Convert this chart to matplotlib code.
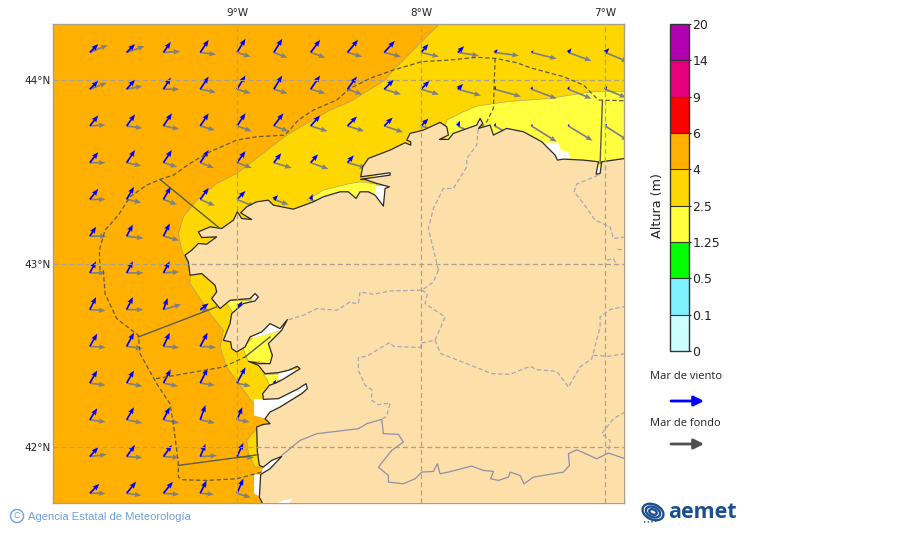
#!/usr/bin/env python3
"""Wave height map for the Galician coast (AEMET style)."""

import matplotlib

matplotlib.use("Agg")
import matplotlib.pyplot as plt
import numpy as np
from matplotlib.cm import ScalarMappable
from matplotlib.colors import BoundaryNorm, ListedColormap
from matplotlib.patches import Ellipse, Polygon

# colour scale
LEVELS = ["0", "0.1", "0.5", "1.25", "2.5", "4", "6", "9", "14", "20"]
COLORS = ["#ccffff", "#80f2ff", "#00ff00", "#ffff40", "#ffd700",
          "#ffb000", "#ff0000", "#e6007e", "#b000b0"]
LAND = "#fddfaa"

# arrow grid, degrees
LONS = [-9.8, -9.6, -9.4, -9.2, -9.0, -8.8, -8.6, -8.4, -8.2, -8.0, -7.8, -7.6, -7.4, -7.2, -7.0]
LATS = [44.15, 43.95, 43.75, 43.55, 43.35, 43.15, 42.95, 42.75, 42.55, 42.35, 42.15, 41.95, 41.75]

# one list per latitude, from the west; a row ends where the land starts
WIND_U = [
    [8, 8, 7, 8, 8, 8, 9, 10, 10, 7, 6, 3, 2, 3, 4],
    [8, 8, 7, 8, 8, 8, 9, 9, 9, 8, 5, 1, 1, 1, 2],
    [8, 8, 8, 8, 8, 9, 9, 9, 8, 7, 2, 1, 1, 1, 2],
    [8, 8, 8, 8, 8, 7, 7, 6],
    [8, 7, 7, 8, 8, 4, 2],
    [6, 6, 6],
    [6, 6, 6],
    [6, 6, 4, 8, 5],
    [7, 7, 6, 7],
    [7, 7, 7, 7, 8, 2],
    [7, 7, 6, 5, 5],
    [8, 8, 8, 5, 6],
    [9, 9, 9, 6, 6],
]
WIND_V = [
    [8, 8, 10, 12, 13, 13, 12, 12, 11, 8, 6, 3, 2, 4, 4],
    [8, 9, 11, 12, 13, 13, 13, 12, 9, 8, 5, 3, 3, 3, 3],
    [10, 11, 12, 12, 12, 12, 10, 9, 8, 7, 5, 3, 2, 2, 2],
    [10, 12, 12, 12, 11, 9, 8, 7],
    [10, 12, 12, 11, 8, 4, 5],
    [9, 11, 12],
    [11, 11, 11],
    [12, 12, 11, 6, 8],
    [12, 13, 13, 13],
    [12, 12, 13, 14, 15, 3],
    [11, 12, 12, 14, 12],
    [9, 11, 11, 12, 13],
    [9, 11, 11, 12, 14],
]
SWELL_U = [
    [17, 17, 16, 15, 13, 13, 14, 14, 16, 17, 20, 23, 24, 22, 22],
    [16, 15, 15, 15, 13, 13, 14, 14, 16, 17, 22, 25, 24, 22, 20],
    [15, 15, 15, 14, 14, 14, 16, 16, 18, 17, 20, 22, 24, 23, 22],
    [15, 14, 13, 13, 14, 17, 17, 18],
    [15, 14, 13, 14, 17, 14, 12],
    [16, 16, 15],
    [15, 16, 15],
    [15, 16, 17, 8, 2],
    [15, 15, 15, 15],
    [15, 15, 14, 14, 13, 6],
    [15, 15, 15, 14, 12],
    [16, 15, 15, 16, 16],
    [15, 14, 15, 13, 13],
]
SWELL_V = [
    [7, 6, 1, -2, -4, -5, -5, -4, -4, -4, -3, -3, -6, -8, -9],
    [6, 3, 0, -3, -4, -4, -4, -5, -5, -5, -6, -7, -9, -9, -8],
    [1, -2, -3, -4, -5, -5, -5, -5, -6, -5, -10, -12, -15, -14, -14],
    [0, -3, -4, -5, -5, -5, -6, -5],
    [0, -3, -5, -6, -7, -5, -6],
    [0, -2, -4],
    [0, 0, 1],
    [-1, 0, 5, 0, 0],
    [-1, -2, -1, -1],
    [-2, -3, -3, -2, -3, -1],
    [-2, -3, -3, -3, -2],
    [2, -1, -1, 1, -1],
    [0, -2, -1, -1, -4],
]

# outlines traced from enlarged views of the map: (x, y) at 3 units per map
# cell, in tiles; to_lonlat() turns them into degrees for the axes
NW, NE, SW, SE = (50, 20), (350, 20), (50, 270), (350, 270)
RIAS, FERROL = (210, 285), (340, 120)

COAST_SW = [(638, 700), (628, 680), (632, 612), (660, 595), (695, 558), (665, 570),
            (640, 590), (628, 585), (622, 545), (620, 470), (640, 462), (660, 460),
            (645, 445)]
COAST_RIAS = [(180, 380), (210, 365), (275, 325), (292, 310), (288, 295), (265, 310),
              (205, 340), (160, 342), (158, 325), (178, 300), (200, 292), (222, 280),
              (270, 250), (262, 243), (235, 255), (205, 262), (165, 265), (145, 240),
              (115, 228), (150, 235), (180, 235), (187, 210), (175, 175), (215, 135),
              (232, 103), (210, 130), (180, 115), (155, 140), (120, 155), (105, 185),
              (80, 200), (65, 190), (62, 170), (40, 165), (60, 115), (65, 85),
              (100, 55), (135, 47), (145, 35), (135, 25), (120, 40), (60, 45),
              (30, 70), (5, 40), (20, 20), (15, 0)]
COAST_NW = [(455, 760), (420, 765), (415, 725), (405, 705), (425, 690), (445, 670), (470, 672),
            (500, 650), (455, 652), (445, 635), (480, 620), (515, 625), (550, 600), (562, 575),
            (575, 595), (605, 598), (572, 578), (590, 560), (620, 545), (655, 540),
            (670, 555), (730, 567), (790, 545), (820, 530), (870, 515)]
COAST_FERROL = [(25, 215), (48, 235), (60, 215), (85, 215), (105, 225), (130, 258), (135, 205),
                (148, 200), (110, 190), (75, 178), (62, 178), (100, 172), (150, 165), (150, 158),
                (100, 165), (62, 170), (68, 140), (85, 115), (150, 90), (195, 68), (212, 75),
                (212, 65), (200, 60), (210, 40), (250, 30)]
COAST_NE = [(270, 307), (290, 320), (295, 345), (268, 358), (295, 358),
            (310, 340), (380, 315), (390, 295), (398, 310), (385, 325), (420, 315),
            (430, 345), (470, 325), (520, 335), (575, 365), (615, 405), (622, 420),
            (640, 417), (700, 420), (745, 425), (738, 462), (750, 460), (755, 425),
            (825, 415)]

GOLD_NE_TOP = [(270, 10), (215, 65), (135, 145), (105, 180), (0, 245)]
GOLD_NW = [(840, 270), (710, 345), (560, 460), (500, 490), (440, 540), (400, 590),
           (385, 640), (395, 690), (420, 745)]
GOLD_SW = [(420, 40), (480, 130), (520, 180), (510, 230), (530, 290), (610, 400),
           (650, 400), (700, 300)]
GOLD_NE_END = [(825, 500), (825, 10)]
GOLD_MINHO = [(590, 510), (620, 475), (640, 480), (640, 590), (615, 590), (595, 550)]

YELLOW_NORTH = [(825, 215), (730, 215), (680, 222), (600, 235), (470, 245), (380, 258),
                (340, 275), (290, 300), (280, 340), (300, 420), (825, 500)]
YELLOW_FERROL_NW = [(770, 540), (820, 510), (900, 490)]
YELLOW_FERROL = [(60, 185), (110, 192), (125, 260), (0, 240)]
YELLOW_MUROS = [(50, 55), (60, 45), (135, 45), (100, 60), (70, 85)]
YELLOW_AROUSA = [(100, 190), (125, 158), (215, 135), (175, 175), (187, 210), (180, 235),
                 (150, 230), (115, 228), (105, 205)]
YELLOW_PONTEVEDRA = [(160, 268), (220, 265), (200, 290), (178, 300), (170, 280)]

WHITE_RIAS = [
    [(132, 340), (160, 342), (205, 340), (290, 295), (292, 310), (210, 365), (165, 400), (132, 390)],
    [(128, 30), (146, 30), (146, 48), (125, 48)],
    [(120, 155), (155, 140), (165, 115), (180, 115), (210, 130), (232, 103), (215, 135), (130, 158)],
    [(205, 263), (270, 248), (220, 282), (205, 285)],
]
WHITE_SW = [
    [(612, 612), (632, 612), (636, 680), (612, 670)],
    [(632, 612), (660, 595), (700, 550), (660, 565), (640, 590)],
]
WHITE_FERROL = [
    [(105, 197), (148, 198), (135, 258), (125, 258), (105, 225)],
    [(100, 168), (150, 158), (150, 165), (100, 172)],
]
WHITE_NE = [
    [(735, 440), (760, 440), (750, 470), (735, 470)],
    [(580, 368), (625, 368), (632, 390), (655, 395), (660, 420), (620, 425), (600, 400)],
]
WHITE_ONLAND = [(680, 700), (700, 690), (730, 683), (715, 700)]

# solid grey-blue border with Portugal
BORDER_SE = [(95, 447), (100, 490), (145, 492), (160, 515), (125, 540), (85, 590), (115, 615),
             (115, 635), (160, 640), (195, 625), (215, 605), (250, 603), (262, 580), (270, 610),
             (295, 605), (365, 587), (400, 600), (430, 603), (422, 625), (445, 630), (475, 620),
             (480, 605), (510, 615), (522, 640), (550, 620), (640, 605), (658, 585), (655, 550),
             (680, 538), (740, 565), (775, 548), (825, 565)]
BORDER_SW = [(695, 555), (750, 510), (800, 490), (900, 478)]
BORDER_SE_WEST = [(0, 478), (25, 475), (50, 460), (95, 447)]

# dashed province borders
PROVINCE_SE = [
    [(265, 0), (250, 35), (215, 60), (120, 62), (70, 72), (30, 65), (25, 100), (0, 97)],
    [(215, 60), (232, 70), (225, 100), (285, 140), (255, 210), (215, 218), (210, 232), (130, 228),
     (118, 217), (50, 258), (25, 262), (25, 300), (45, 345), (65, 358), (65, 390), (85, 403),
     (120, 398), (110, 437), (95, 447)],
    [(255, 210), (272, 250), (350, 280), (425, 310), (480, 312), (540, 288), (560, 298), (620, 303),
     (655, 350), (690, 290), (725, 265), (750, 170), (750, 140), (780, 118), (825, 108)],
    [(730, 255), (775, 258), (825, 250)],
    [(825, 425), (790, 445), (755, 490), (780, 510), (775, 548)],
]
PROVINCE_SW = [(900, 95), (860, 120), (800, 115), (760, 135), (710, 150)]
PROVINCE_NE = [
    [(265, 750), (235, 625), (250, 565), (280, 505), (310, 505), (350, 440), (350, 415), (380, 375),
     (385, 320)],
    [(745, 465), (680, 492), (672, 515), (700, 550), (735, 600), (780, 620), (790, 655), (825, 650)],
    [(800, 685), (825, 685)],
    [(770, 720), (790, 715), (800, 735)],
]

# marine zone limits
ZONE_NW = [(150, 750), (148, 690), (165, 630), (205, 585), (240, 530), (290, 495), (330, 478),
           (370, 465), (420, 430), (480, 395), (560, 360), (620, 350), (705, 345), (745, 300),
           (790, 270), (860, 240), (900, 205)]
ZONE_NE = [(0, 205), (60, 175), (130, 150), (215, 125), (300, 120), (380, 112), (435, 115),
           (500, 128), (540, 143), (640, 170), (700, 195), (745, 240), (825, 242)]
ZONE_SW = [(160, 0), (165, 70), (200, 145), (265, 195), (270, 250), (320, 340), (360, 400),
           (370, 460), (385, 580), (385, 620), (400, 628), (470, 630), (560, 625), (635, 605)]
ZONE_DASHED_SW = [(318, 325), (520, 290), (585, 260)]
ZONE_DASHED_NE = [(435, 115), (430, 265), (410, 305), (395, 320)]
ZONE_SOLID = [
    (NW, [(330, 478), (510, 625)]),
    (SW, [(265, 200), (500, 110)]),
    (SW, [(585, 260), (660, 200)]),
    (SW, [(385, 585), (625, 553)]),
    (NE, [(757, 242), (750, 430)]),
]


def to_lonlat(points, tile):
    """Tile units to lon/lat (184 cells per degree of lon, 183.5 per degree of lat)."""
    pts = np.array(points, dtype=float)
    x = tile[0] + pts[:, 0] / 3
    y = tile[1] + pts[:, 1] / 3
    return np.column_stack([-9 + (x - 237) / 184, 44 - (y - 80) / 183.5])


fig = plt.figure(figsize=(9, 5.33), dpi=100)
ax = fig.add_axes([53 / 900, 1 - 502.5 / 533, 570.5 / 900, 478.5 / 533])
ax.set_facecolor(COLORS[5])
ax.set_xlim(-10, -6.9)
ax.set_ylim(41.7, 44.305)

# wave height areas
gold = np.vstack([to_lonlat(GOLD_NE_TOP, NE), to_lonlat(GOLD_NW, NW),
                  to_lonlat(GOLD_SW, SW), to_lonlat(GOLD_NE_END, NE)])
ax.add_patch(Polygon(gold, fc=COLORS[4], ec="#b8a060", lw=0.6, zorder=1))
ax.add_patch(Polygon(to_lonlat(GOLD_MINHO, SW), fc=COLORS[4], ec="#b8a060", lw=0.6, zorder=1))
ferrol = np.vstack([to_lonlat(YELLOW_FERROL_NW, NW), to_lonlat(YELLOW_FERROL, FERROL)])
for poly in [to_lonlat(YELLOW_NORTH, NE), ferrol, to_lonlat(YELLOW_MUROS, RIAS),
             to_lonlat(YELLOW_AROUSA, RIAS), to_lonlat(YELLOW_PONTEVEDRA, RIAS)]:
    ax.add_patch(Polygon(poly, fc=COLORS[3], ec="#b8a060", lw=0.5, zorder=2))
for tile, polys in [(RIAS, WHITE_RIAS), (SW, WHITE_SW), (FERROL, WHITE_FERROL), (NE, WHITE_NE)]:
    for poly in polys:
        ax.add_patch(Polygon(to_lonlat(poly, tile), fc="white", ec="none", zorder=3))

# arrows, drawn under the land
xs, ys, wu, wv, su, sv = [], [], [], [], [], []
for j, lat in enumerate(LATS):
    for i in range(len(WIND_U[j])):
        xs.append(LONS[i])
        ys.append(lat)
        wu.append(WIND_U[j][i])
        wv.append(WIND_V[j][i])
        su.append(SWELL_U[j][i])
        sv.append(SWELL_V[j][i])
arrow_kw = dict(units="dots", scale_units="dots", angles="uv", scale=0.95, width=1.7,
                headwidth=3.2, headlength=4, headaxislength=3.6, minlength=0)
ax.quiver(xs, ys, su, sv, color="#808080", zorder=4, **arrow_kw)
ax.quiver(xs, ys, wu, wv, color="#0000ff", zorder=5, **arrow_kw)

# land
coast = np.vstack([to_lonlat(COAST_SW, SW), to_lonlat(COAST_RIAS, RIAS), to_lonlat(COAST_NW, NW),
                   to_lonlat(COAST_FERROL, FERROL), to_lonlat(COAST_NE, NE)])
land = np.vstack([coast, [[-6.85, 41.65], [-8.86, 41.65]]])
ax.add_patch(Polygon(land, fc=LAND, ec="none", zorder=6))
ax.plot(coast[:, 0], coast[:, 1], color="#2a2a2a", lw=0.9, zorder=7)
ax.add_patch(Polygon(to_lonlat(WHITE_ONLAND, SW), fc="white", ec="none", zorder=7))

# graticule
for lon in [-9, -8, -7]:
    ax.axvline(lon, color="#a8a294", lw=0.9, ls=(0, (4, 2.5)), zorder=8)
for lat in [44, 43, 42]:
    ax.axhline(lat, color="#a8a294", lw=0.9, ls=(0, (4, 2.5)), zorder=8)

# borders
border = np.vstack([to_lonlat(BORDER_SW, SW), to_lonlat(BORDER_SE_WEST, SE), to_lonlat(BORDER_SE, SE)])
ax.plot(border[:, 0], border[:, 1], color="#9090a8", lw=0.9, zorder=9)
province_lines = [to_lonlat(p, SE) for p in PROVINCE_SE] + [to_lonlat(p, NE) for p in PROVINCE_NE]
province_lines.append(to_lonlat(PROVINCE_SW, SW))
for line in province_lines:
    ax.plot(line[:, 0], line[:, 1], color="#a8a6b8", lw=0.9, ls=(0, (3.5, 2)), zorder=9)

# marine zones
zone = np.vstack([to_lonlat(ZONE_NW, NW), to_lonlat(ZONE_NE, NE)])
dashed = [zone, to_lonlat(ZONE_SW, SW), to_lonlat(ZONE_DASHED_SW, SW), to_lonlat(ZONE_DASHED_NE, NE)]
for line in dashed:
    ax.plot(line[:, 0], line[:, 1], color="#5c5c48", lw=0.9, ls=(0, (3.5, 2)), zorder=10)
for tile, pts in ZONE_SOLID:
    line = to_lonlat(pts, tile)
    ax.plot(line[:, 0], line[:, 1], color="#5c5c48", lw=1.0, zorder=10)

ax.xaxis.tick_top()
ax.set_xticks([-9, -8, -7], ["9°W", "8°W", "7°W"])
ax.set_yticks([44, 43, 42], ["44°N", "43°N", "42°N"])
ax.tick_params(length=0, labelsize=7.5, colors="#222222")
ax.tick_params(axis="x", pad=4.5)
ax.tick_params(axis="y", pad=1.5)
for spine in ax.spines.values():
    spine.set_color("#a8a080")
    spine.set_linewidth(1.0)

# colour bar
cax = fig.add_axes([669.5 / 900, 1 - 351 / 533, 19.5 / 900, 327 / 533])
cmap = ListedColormap(COLORS)
norm = BoundaryNorm(np.arange(len(LEVELS)), cmap.N)
cb = fig.colorbar(ScalarMappable(norm=norm, cmap=cmap), cax=cax, drawedges=True,
                  ticks=np.arange(len(LEVELS)), spacing="uniform")
cb.ax.set_yticklabels(LEVELS)
cb.ax.tick_params(length=1.5, width=0.8, labelsize=9, pad=1, colors="#222222")
cb.outline.set_edgecolor("#333333")
cb.outline.set_linewidth(1.0)
cb.dividers.set_color("#333333")
cb.dividers.set_linewidth(0.8)
cb.ax.set_ylabel("Altura (m)", fontsize=9.2, color="#222222", labelpad=0)
cb.ax.yaxis.set_label_position("left")
cb.ax.yaxis.set_label_coords(-0.27, 0.445)

# legend, logo and credit on a page overlay
page = fig.add_axes([0, 0, 1, 1], zorder=20)
page.set_xlim(0, 900)
page.set_ylim(533, 0)
page.axis("off")
page.text(650, 376.5, "Mar de viento", fontsize=8, family="Open Sans", color="#222222", va="center")
page.text(650, 423.5, "Mar de fondo", fontsize=8, family="Open Sans", color="#222222", va="center")
for y, col in [(401, "#0000ff"), (444, "#505050")]:
    page.annotate("", xy=(704, y), xytext=(671, y),
                  arrowprops=dict(arrowstyle="-|>", color=col, lw=2, mutation_scale=15,
                                  shrinkA=0, shrinkB=0))

page.text(668, 512, "aemet", fontsize=15.5, family="Open Sans", weight="bold",
          color="#1c4f8f", va="center")
for w, h in [(22, 15), (15, 10), (8, 5)]:
    page.add_patch(Ellipse((653, 512), w, h, angle=25, fc="none", ec="#1c4f8f", lw=1.7))
page.plot([644, 650, 658], [522, 522, 521], color="#1c4f8f", lw=1.0, ls=":")

page.add_patch(Ellipse((17, 516), 13, 13, fc="none", ec="#6fa0e0", lw=1.0))
page.text(17, 516, "C", fontsize=6.5, color="#6fa0e0", ha="center", va="center",
          family="Liberation Sans")
page.text(28, 516.5, "Agencia Estatal de Meteorología", fontsize=8.1, color="#6fa0e0",
          family="Liberation Sans", va="center")

fig.savefig("out.png", dpi=100)
plt.close(fig)
